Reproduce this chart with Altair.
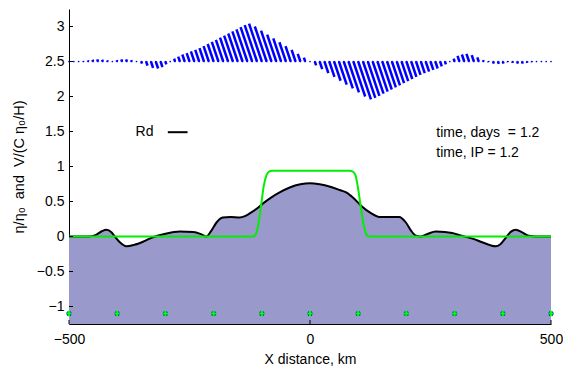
import altair as alt
import pandas as pd

# ---- data ----
eta_x = [-500, -460, -445, -432, -422, -412, -405, -395, -381, -365, -345, -326, -300, -270,
         -242, -225, -215, -205, -194, -181, -165, -146, -135, -125, -110, -98, -80, -63, -42,
         -20, 0, 20, 42, 63, 75, 90, 106, 125, 144, 165, 185, 199, 210, 220, 230, 245, 261,
         280, 295, 315, 337, 360, 385, 395, 406, 417, 427, 440, 454, 470, 500]
eta_y = [0, 0, 0.02, 0.075, 0.096, 0.06, 0.0, -0.08, -0.14, -0.12, -0.07, -0.01, 0.04, 0.07,
         0.065, 0.03, 0.0, 0.08, 0.2, 0.27, 0.28, 0.27, 0.29, 0.33, 0.40, 0.47, 0.56, 0.63, 0.70,
         0.745, 0.76, 0.745, 0.71, 0.66, 0.63, 0.55, 0.44, 0.34, 0.28, 0.28, 0.28, 0.2, 0.08, 0.01,
         0.0, 0.04, 0.07, 0.065, 0.05, 0.01, -0.03, -0.09, -0.14, -0.11, -0.02, 0.07, 0.096, 0.06,
         0.01, 0, 0]

green_x = [-500, -118, -112, -106, -101, -96, -90, -84, -78, 82, 88, 94, 99, 105, 111, 117, 121, 500]
green_y = [0, 0, 0.04, 0.22, 0.47, 0.72, 0.88, 0.93, 0.94, 0.94, 0.93, 0.88, 0.72, 0.44, 0.18, 0.03, 0, 0]

quiver_x = [-500, -490, -480, -470, -460, -450, -440, -430, -420, -410, -400, -390, -380, -370,
            -360, -350, -340, -330, -320, -310, -300, -290, -280, -270, -260, -250, -240, -230,
            -220, -210, -200, -190, -180, -170, -160, -150, -140, -130, -120, -110, -100, -90,
            -80, -70, -60, -50, -40, -30, -20, -10, 0, 10, 20, 30, 40, 50, 60, 70, 80, 90, 100,
            110, 120, 130, 140, 150, 160, 170, 180, 190, 200, 210, 220, 230, 240, 250, 260, 270,
            280, 290, 300, 310, 320, 330, 340, 350, 360, 370, 380, 390, 400, 410, 420, 430, 440,
            450, 460, 470, 480, 490, 500]
quiver_v = [0, 0, 0, 0.005, 0.015, 0.025, 0.03, 0.025, 0.015, 0.0, 0.02, 0.03, 0.03, 0.02,
            0.0, -0.03, -0.06, -0.09, -0.1, -0.08, -0.04, 0.0, 0.04, 0.07, 0.1, 0.12, 0.145, 0.165,
            0.19, 0.22, 0.25, 0.28, 0.31, 0.34, 0.37, 0.40, 0.43, 0.46, 0.49, 0.52, 0.54, 0.50,
            0.44, 0.385, 0.33, 0.275, 0.22, 0.165, 0.11, 0.055, 0, -0.055, -0.11, -0.165, -0.22,
            -0.275, -0.33, -0.385, -0.44, -0.50, -0.54, -0.52, -0.49, -0.46, -0.43, -0.40, -0.37,
            -0.34, -0.31, -0.28, -0.25, -0.22, -0.19, -0.165, -0.145, -0.12, -0.1, -0.07, -0.04,
            0.0, 0.04, 0.08, 0.1, 0.11, 0.09, 0.06, 0.02, -0.01, -0.03, -0.035, -0.03, -0.01,
            -0.02, -0.03, -0.03, -0.02, -0.01, 0, 0, 0, 0]
QUIVER_BASE = 2.5
QUIVER_XSCALE = 49.0  # km of horizontal lean per unit of V (quiver scaling)

dot_x = [-500, -400, -300, -200, -100, 0, 100, 200, 300, 400, 500]
dot_y = [-1.1] * 11

legend_line_x = [-295]
legend_line_x2 = [-254]
legend_line_y = [1.49]

label_text = ["Rd", "time, days\u00a0 = 1.2", "time, IP = 1.2"]
label_x = [-362, 262, 262]
label_y = [1.49, 1.48, 1.19]

y_tick_values = [-1, -0.5, 0, 0.5, 1, 1.5, 2, 2.5, 3]
x_tick_values = [-500, 0, 500]

X_DOM = [-500, 500]
Y_DOM = [-1.25, 3.25]
W, H = 482, 315
FONT = "Liberation Sans"

xs = alt.Scale(domain=X_DOM, nice=False, zero=False)
ys = alt.Scale(domain=Y_DOM, nice=False, zero=False)

x_axis = alt.Axis(
    values=x_tick_values, title="X distance, km", format="d",
    labelFont=FONT, titleFont=FONT, labelFontSize=14, titleFontSize=14,
    titleFontWeight="normal", labelColor="black", titleColor="black",
    domainColor="black", domainWidth=1, ticks=False, grid=False,
    labelPadding=8, titlePadding=6, labelFlush=False, labelOverlap=False)
y_axis = alt.Axis(
    values=y_tick_values, title="η/η₀\u00a0 and\u00a0 V/(C η₀/H)",
    labelExpr="replace(format(datum.value, '.1f'), '.0', '')",
    labelFont=FONT, titleFont=FONT, labelFontSize=14, titleFontSize=14.5,
    titleFontWeight="normal", labelColor="black", titleColor="black",
    domainColor="black", domainWidth=1, ticks=False, grid=False,
    labelPadding=5, titlePadding=10, labelOverlap=False)

eta_df = pd.DataFrame({"x": eta_x, "y": eta_y})
green_df = pd.DataFrame({"x": green_x, "y": green_y})
q_df = pd.DataFrame({
    "x": quiver_x,
    "x2": [b - QUIVER_XSCALE * v for b, v in zip(quiver_x, quiver_v)],
    "y": [QUIVER_BASE] * len(quiver_x),
    "y2": [QUIVER_BASE + v for v in quiver_v],
})
dots_df = pd.DataFrame({"x": dot_x, "y": dot_y})
leg_df = pd.DataFrame({"x": legend_line_x, "x2": legend_line_x2, "y": legend_line_y})
lab_df = pd.DataFrame({"x": label_x, "y": label_y, "t": label_text})
ytk_df = pd.DataFrame({"y": y_tick_values})
xtk_df = pd.DataFrame({"x": x_tick_values})


def X(field="x"):
    return alt.X(f"{field}:Q", scale=xs, axis=x_axis)


def Y(field="y"):
    return alt.Y(f"{field}:Q", scale=ys, axis=y_axis)


area = alt.Chart(eta_df).mark_area(color="#9999cc", interpolate="monotone", opacity=1).encode(
    x=X(), y=Y(), y2=alt.datum(Y_DOM[0]))

eta_line = alt.Chart(eta_df).mark_line(color="black", strokeWidth=2, interpolate="monotone").encode(
    x=X(), y=Y())

green_line = alt.Chart(green_df).mark_line(color="#00ee00", strokeWidth=2, interpolate="monotone").encode(
    x=X(), y=Y())

quiver = alt.Chart(q_df).mark_rule(color="#0000ff", strokeWidth=2.5).encode(
    x=X(), x2="x2:Q", y=Y(), y2="y2:Q")

quiver_dots = alt.Chart(q_df).mark_circle(color="#0000ff", size=3, opacity=1).encode(
    x=X(), y=Y())

blue_dots = alt.Chart(dots_df).mark_circle(color="#0000ff", size=26, opacity=1).encode(
    x=X(), y=Y())
green_dots = alt.Chart(dots_df).mark_point(shape="cross", color="#00ff00", filled=True, size=28, opacity=1).encode(
    x=X(), y=Y())

leg_line = alt.Chart(leg_df).mark_rule(color="black", strokeWidth=2).encode(
    x=X(), x2="x2:Q", y=Y())

labels = alt.Chart(lab_df).mark_text(align="left", baseline="middle", font=FONT, fontSize=14,
                                     color="black").encode(
    x=X(), y=Y(), text="t:N")

ytks = alt.Chart(ytk_df).mark_rule(color="black", strokeWidth=1).encode(
    y=Y(), x=alt.value(0), x2=alt.value(4))
xtks = alt.Chart(xtk_df).mark_rule(color="black", strokeWidth=1).encode(
    x=X(), y=alt.value(H), y2=alt.value(H - 4))

chart = alt.layer(
    area, eta_line, green_line, quiver, quiver_dots, blue_dots, green_dots,
    leg_line, labels, ytks, xtks
).properties(
    width=W, height=H,
    autosize=alt.AutoSizeParams(type="none"),
    padding={"left": 61, "top": 1, "right": 12, "bottom": 44},
    background="white",
).configure_view(stroke=None).configure_axis(labelOverlap=False)

chart.save("out.html", embed_options={"renderer": "svg", "actions": False})
